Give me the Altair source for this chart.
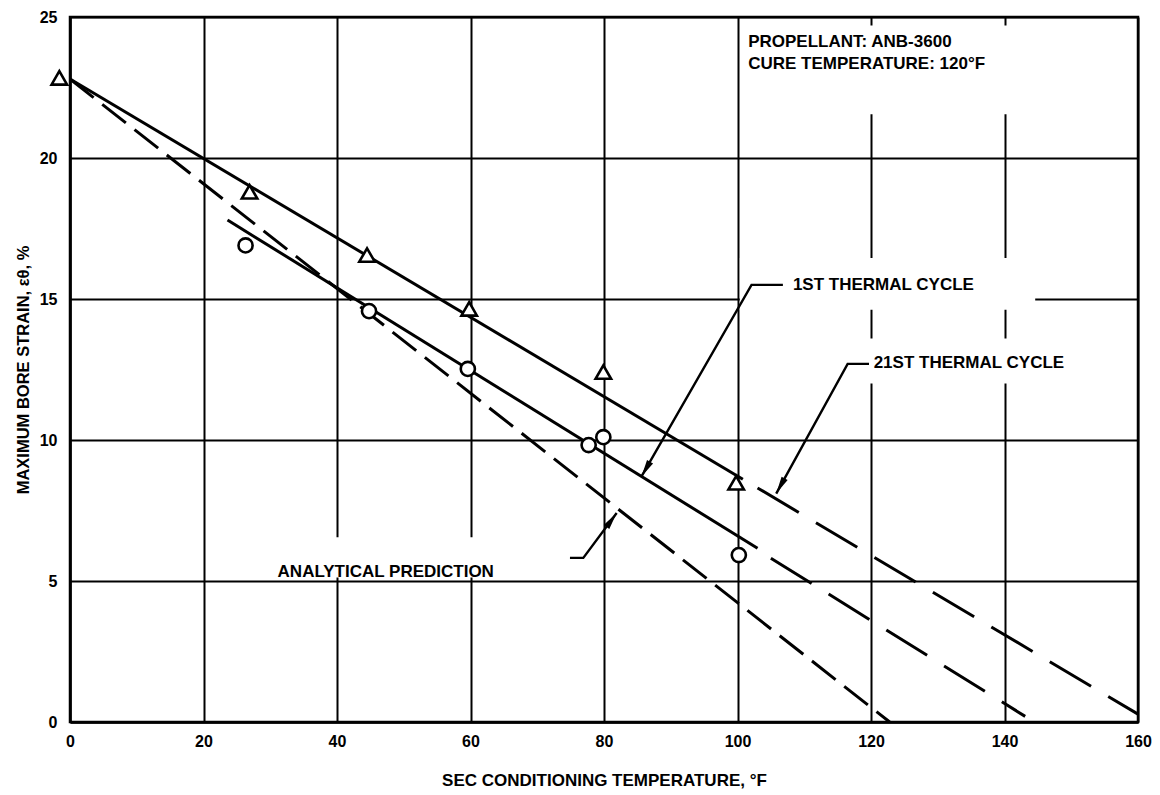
import altair as alt
import pandas as pd

# ---------------- data ----------------
x_ticks = [0, 20, 40, 60, 80, 100, 120, 140, 160]
y_ticks = [0, 5, 10, 15, 20, 25]

# 21st thermal cycle (triangles) and 1st thermal cycle (circles)
tri_x = [-1.6, 26.9, 44.5, 59.8, 79.9, 99.8]
tri_y = [22.84, 18.8, 16.56, 14.65, 12.41, 8.48]
circ_x = [26.3, 44.8, 59.6, 77.7, 79.9, 100.2]
circ_y = [16.9, 14.57, 12.52, 9.82, 10.1, 5.92]

# fitted lines (solid part and dashed extrapolation)
c21_solid_x = [0, 100.8]
c21_solid_y = [22.8, 8.61]
c21_dash_x = [103.0, 160]
c21_dash_y = [8.30, 0.28]

c1_solid_x = [23.6, 103.0]
c1_solid_y = [17.8, 6.16]
c1_dash_x = [105.0, 143.1]
c1_dash_y = [5.81, 0.2]

analytical_x = [0, 122.8]
analytical_y = [22.8, 0]

# annotations
note_text = ["PROPELLANT:  ANB-3600", "CURE TEMPERATURE:  120°F",
             "1ST  THERMAL CYCLE", "21ST THERMAL CYCLE", "ANALYTICAL PREDICTION"]
note_x = [101.6, 101.6, 108.3, 120.4, 31.1]
note_y = [24.11, 23.33, 15.5, 12.73, 5.32]

# leader lines: (leader id, x, y) corner points, last point is arrow tip
leader_id = ["a", "a", "a", "b", "b", "b", "c", "c", "c"]
leader_x = [106.8, 102.1, 85.6, 119.7, 116.5, 105.8, 74.9, 76.9, 81.9]
leader_y = [15.5, 15.5, 8.7, 12.7, 12.7, 8.1, 5.82, 5.82, 7.41]
arrow_x = [85.6, 105.8, 81.9]
arrow_y = [8.7, 8.1, 7.41]
arrow_angle = [210, 209, 36]

# gaps in the grid behind the labels
gap_x = [100.4, 100.35, 119.6, 30.0]
gap_x2 = [143.5, 144.6, 145.0, 70.0]
gap_y = [21.55, 14.62, 12.0, 5.12]
gap_y2 = [24.7, 16.45, 13.6, 6.55]

# ---------------- chart ----------------
FONT = "Liberation Sans"

xs = alt.Scale(domain=[0, 160], nice=False, zero=False)
ys = alt.Scale(domain=[0, 25], nice=False, zero=False)

x_axis = alt.Axis(values=x_ticks, grid=True, gridColor="black", gridWidth=2, gridOpacity=1,
                  ticks=False, domainColor="black", domainWidth=2.5,
                  labelFont=FONT, labelFontSize=16, labelFontWeight="bold", labelColor="black",
                  labelPadding=11, labelFlush=False, labelOverlap=False, format="d",
                  title="SEC CONDITIONING TEMPERATURE, °F", titleFont=FONT, titleFontSize=17,
                  titleFontWeight="bold", titleColor="black", titlePadding=23)
y_axis = alt.Axis(values=y_ticks, grid=True, gridColor="black", gridWidth=2, gridOpacity=1,
                  ticks=False, domainColor="black", domainWidth=2.5,
                  labelFont=FONT, labelFontSize=16, labelFontWeight="bold", labelColor="black",
                  labelPadding=13, labelFlush=False, labelOverlap=False, format="d",
                  title="MAXIMUM BORE STRAIN, εθ, %", titleFont=FONT, titleFontSize=16.5,
                  titleFontWeight="bold", titleColor="black", titlePadding=8)


def X(field="x"):
    return alt.X(f"{field}:Q", scale=xs, axis=x_axis)


def Y(field="y"):
    return alt.Y(f"{field}:Q", scale=ys, axis=y_axis)


def seg(xv, yv):
    return pd.DataFrame({"x": xv, "y": yv})


gaps = alt.Chart(pd.DataFrame({"x": gap_x, "x2": gap_x2, "y": gap_y, "y2": gap_y2})).mark_rect(
    fill="white", stroke=None).encode(x=X(), x2="x2:Q", y=Y(), y2="y2:Q")

solid_style = dict(color="black", strokeWidth=3)
c21_solid = alt.Chart(seg(c21_solid_x, c21_solid_y)).mark_line(**solid_style).encode(x=X(), y=Y())
c1_solid = alt.Chart(seg(c1_solid_x, c1_solid_y)).mark_line(**solid_style).encode(x=X(), y=Y())
c21_dash = alt.Chart(seg(c21_dash_x, c21_dash_y)).mark_line(
    color="black", strokeWidth=3, strokeDash=[48, 20]).encode(x=X(), y=Y())
c1_dash = alt.Chart(seg(c1_dash_x, c1_dash_y)).mark_line(
    color="black", strokeWidth=3, strokeDash=[48, 20]).encode(x=X(), y=Y())
analytical = alt.Chart(seg(analytical_x, analytical_y)).mark_line(
    color="black", strokeWidth=3, strokeDash=[30, 11]).encode(x=X(), y=Y())

leaders = alt.Chart(pd.DataFrame({"id": leader_id, "x": leader_x, "y": leader_y,
                                  "o": list(range(len(leader_x)))})).mark_line(
    color="black", strokeWidth=2.4).encode(x=X(), y=Y(), detail="id:N", order="o:Q")
arrows = alt.Chart(pd.DataFrame({"x": arrow_x, "y": arrow_y, "a": arrow_angle})).mark_point(
    shape="M0,0L0.4,2L-0.4,2Z", size=300, filled=True, color="black", opacity=1).encode(
    x=X(), y=Y(), angle=alt.Angle("a:Q", scale=None))

triangles = alt.Chart(seg(tri_x, tri_y)).mark_point(
    shape="triangle-up", size=240, filled=False, fill="white", fillOpacity=1,
    stroke="black", strokeWidth=2.6, opacity=1).encode(x=X(), y=Y())
circles = alt.Chart(seg(circ_x, circ_y)).mark_point(
    shape="circle", size=200, filled=False, fill="white", fillOpacity=1,
    stroke="black", strokeWidth=2.6, opacity=1).encode(x=X(), y=Y())

notes = alt.Chart(pd.DataFrame({"x": note_x, "y": note_y, "t": note_text})).mark_text(
    align="left", baseline="middle", font=FONT, fontSize=17, fontWeight="bold", color="black").encode(
    x=X(), y=Y(), text="t:N")

chart = alt.layer(gaps, analytical, c21_solid, c21_dash, c1_solid, c1_dash, leaders, arrows,
                  triangles, circles, notes).properties(
    width=1068, height=705,
    autosize=alt.AutoSizeParams(type="none"),
    padding={"left": 62, "top": 9, "right": 14, "bottom": 72},
    background="white",
).configure_view(stroke="black", strokeWidth=2.5)

chart.save("out.html", embed_options={"renderer": "svg", "actions": False})
